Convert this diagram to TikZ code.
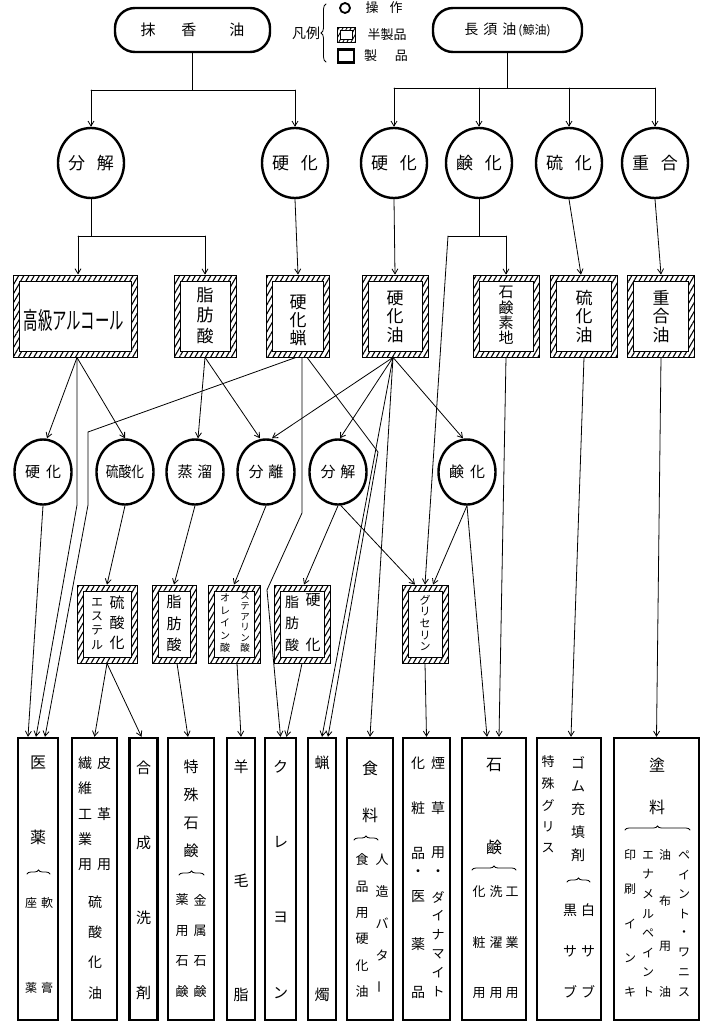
\documentclass[tikz,border=0pt]{standalone}
\usepackage{fontspec}
\newfontfamily\jp{Noto Sans CJK JP}
\usetikzlibrary{arrows.meta,shapes.geometric,patterns.meta,decorations.pathreplacing}
\newcommand\fsz[1]{\fontsize{#1}{#1}\selectfont}
\newcommand\vcol[7][]{%
  \foreach \c [count=\i] in {#7} {%
    \pgfmathsetmacro\yy{#4+(\i-1)*(#5-#4)/(#6-1)}%
    \node[txt,#1] (#2-\i) at (#3,\yy) {\c};
  }}
\begin{document}
\begin{tikzpicture}[x=1pt,y=-1pt,
  txt/.style={inner sep=0pt,font=\jp\fsz{15}},
  f9/.style={font=\jp\fsz{9.5}}, f10/.style={font=\jp\fsz{10}},
  f11/.style={font=\jp\fsz{11}}, f12/.style={font=\jp\fsz{12}},
  f13/.style={font=\jp\fsz{13}}, f14/.style={font=\jp\fsz{14}},
  f15/.style={font=\jp\fsz{15}}, f16/.style={font=\jp\fsz{16}},
  f17/.style={font=\jp\fsz{17}},
  ln/.style={line width=0.8pt,line cap=round},
  arr/.style={ln,-{Straight Barb[length=5pt,width=6pt]}},
  topbox/.style={draw,line width=2.4pt,rounded corners=20pt,fill=white,inner sep=0pt,font=\jp\fsz{15}},
  opA/.style={ellipse,draw,line width=2.4pt,fill=white,inner sep=0pt,minimum width=66pt,minimum height=70pt,font=\jp\fsz{17}},
  opB/.style={ellipse,draw,line width=2.4pt,fill=white,inner sep=0pt,minimum width=57pt,minimum height=65pt,font=\jp\fsz{15}},
  semi/.style={draw,line width=0.8pt,inner sep=0pt,
    pattern={Lines[angle=60,distance=4.5pt,line width=1.1pt]},
    path picture={\draw[line width=0.8pt,fill=white]
      ([xshift=6pt,yshift=-6pt]path picture bounding box.north west) rectangle
      ([xshift=-6pt,yshift=6pt]path picture bounding box.south east);}},
  semismall/.style={draw,line width=0.8pt,inner sep=0pt,
    pattern={Lines[angle=60,distance=3.5pt,line width=0.9pt]},
    path picture={\draw[line width=0.8pt,fill=white]
      ([xshift=3pt,yshift=-3pt]path picture bounding box.north west) rectangle
      ([xshift=-3pt,yshift=3pt]path picture bounding box.south east);}},
  prod/.style={draw,line width=2.4pt,fill=white,inner sep=0pt,minimum height=282pt},
  brc/.style={ln,decorate,decoration={brace,amplitude=4pt}}
]
\useasboundingbox[fill=white] (0,0) rectangle (702,1028);

% ---------- top ----------
\node[topbox,minimum width=155pt,minimum height=44pt] (mk) at (192.5,30) {抹\hspace{26pt}香\hspace{33pt}油};
\node[topbox,minimum width=149pt,minimum height=44pt] (cy) at (507.5,30) {\fsz{14}長\hspace{5pt}須\hspace{5pt}油\hspace{2pt}{\fsz{12}(鯨油)}};

% legend
\node[txt,f14] (lg) at (306,33) {凡例};
\draw[brc,decoration={brace,amplitude=5pt}] (326,62) -- (326,4);
\node[circle,draw,line width=1.8pt,minimum size=10pt,inner sep=0pt] (lc) at (345,8) {};
\node[txt,f13] (lt1) at (384,8) {操\hspace{11pt}作};
\node[semismall,minimum width=18pt,minimum height=15pt] (lh) at (346,35) {};
\node[txt,f13] (lt2) at (387,35) {半製品};
\node[draw,line width=2.2pt,minimum width=16pt,minimum height=13pt,inner sep=0pt] (lp) at (346,56) {};
\node[txt,f13] (lt3) at (386,56) {製\hspace{18pt}品};

% ---------- operations row 1 ----------
\node[opA] (o1) at (91,163) {分\hspace{12pt}解};
\node[opA] (o2) at (295,163) {硬\hspace{12pt}化};
\node[opA] (o3) at (394,163) {硬\hspace{12pt}化};
\node[opA] (o4) at (479,163) {鹸\hspace{12pt}化};
\node[opA] (o5) at (569,163) {硫\hspace{12pt}化};
\node[opA] (o6) at (655,163) {重\hspace{12pt}合};

% ---------- semi products row 1 ----------
\node[semi,minimum width=124pt,minimum height=82pt] (s1) at (75,316) {};
\node[semi,minimum width=62pt,minimum height=82pt] (s2) at (205,316) {};
\node[semi,minimum width=63pt,minimum height=82pt] (s3) at (298,316) {};
\node[semi,minimum width=66pt,minimum height=82pt] (s4) at (395,316) {};
\node[semi,minimum width=66pt,minimum height=82pt] (s5) at (506,316) {};
\node[semi,minimum width=67pt,minimum height=82pt] (s6) at (584,316) {};
\node[semi,minimum width=67pt,minimum height=82pt] (s7) at (661,316) {};
\node[txt] (s1t) at (74,320) {\scalebox{0.6}[1]{\fsz{24}高級アルコール}};
\vcol[f17]{s2t}{205}{295}{336}{3}{脂,肪,酸}
\vcol[f17]{s3t}{298}{302}{338}{3}{硬,化,蝋}
\vcol[f17]{s4t}{395}{298}{335}{3}{硬,化,油}
\vcol[f15]{s5t}{506}{292}{338}{4}{石,鹸,素,地}
\vcol[f17]{s6t}{584}{298}{335}{3}{硫,化,油}
\vcol[f17]{s7t}{661}{298}{335}{3}{重,合,油}

% ---------- operations row 2 ----------
\node[opB] (p1) at (43,472) {硬\hspace{6pt}化};
\node[opB] (p2) at (125,472) {\scalebox{0.85}[1]{硫酸化}};
\node[opB] (p3) at (195,472) {蒸\hspace{5pt}溜};
\node[opB] (p4) at (266,472) {分\hspace{5pt}離};
\node[opB] (p5) at (338,472) {分\hspace{5pt}解};
\node[opB] (p6) at (467,472) {鹸\hspace{6pt}化};

% ---------- semi products row 2 ----------
\node[semi,minimum width=60pt,minimum height=78pt] (q1) at (107,624) {};
\node[semi,minimum width=44pt,minimum height=78pt] (q2) at (174,624) {};
\node[semi,minimum width=52pt,minimum height=78pt] (q3) at (234,624) {};
\node[semi,minimum width=56pt,minimum height=78pt] (q4) at (302,624) {};
\node[semi,minimum width=46pt,minimum height=78pt] (q5) at (425,624) {};
\vcol[f15]{q1a}{117}{603}{643}{3}{硫,酸,化}
\vcol[f12]{q1b}{97}{602}{645}{4}{エ,ス,テ,ル}
\vcol[f15]{q2a}{174}{602}{645}{3}{脂,肪,酸}
\vcol[f9]{q3a}{245}{596}{648}{6}{ス,テ,ア,リ,ン,酸}
\vcol[f10]{q3b}{225}{598}{648}{5}{オ,レ,イ,ン,酸}
\vcol[f15]{q4a}{313}{600}{645}{2}{硬,化}
\vcol[f14]{q4b}{292}{602}{645}{3}{脂,肪,酸}
\vcol[f11]{q5a}{425}{600}{647}{5}{グ,リ,セ,リ,ン}

% ---------- products ----------
\node[prod,minimum width=40pt] (r1) at (38,879) {};
\node[prod,minimum width=45pt] (r2) at (94.5,879) {};
\node[prod,minimum width=28pt] (r3) at (143.5,879) {};
\node[prod,minimum width=46pt] (r4) at (191,879) {};
\node[prod,minimum width=28pt] (r5) at (241,879) {};
\node[prod,minimum width=31pt] (r6) at (280.5,879) {};
\node[prod,minimum width=28pt] (r7) at (322,879) {};
\node[prod,minimum width=46pt] (r8) at (370,879) {};
\node[prod,minimum width=47pt] (r9) at (426.5,879) {};
\node[prod,minimum width=64pt] (r10) at (494,879) {};
\node[prod,minimum width=64pt] (r11) at (569,879) {};
\node[prod,minimum width=85pt] (r12) at (656.5,879) {};

% r1
\node[txt,f16] (r1a) at (38,763) {医};
\node[txt,f16] (r1b) at (38,837) {薬};
\draw[brc] (27,874) -- (50,874);
\vcol[f12]{r1c}{47}{903}{988}{2}{軟,膏}
\vcol[f12]{r1d}{31}{903}{988}{2}{座,薬}
% r2
\vcol[f14]{r2a}{104}{763}{865}{3}{皮,革,用}
\vcol[f14]{r2b}{85}{763}{865}{5}{繊,維,工,業,用}
\vcol[f14]{r2c}{95}{902}{993}{4}{硫,酸,化,油}
% r3
\vcol[f15]{r3a}{143.5}{768}{993}{4}{合,成,洗,剤}
% r4
\vcol[f15]{r4a}{191}{767}{851}{4}{特,殊,石,鹸}
\draw[brc] (179,875) -- (204,875);
\vcol[f13]{r4b}{200}{900}{992}{4}{金,属,石,鹸}
\vcol[f13]{r4c}{182}{900}{992}{4}{薬,用,石,鹸}
% r5, r6, r7
\vcol[f15]{r5a}{241}{767}{995}{3}{羊,毛,脂}
\vcol[f15]{r6a}{280.5}{767}{993}{4}{ク,レ,ヨ,ン}
\vcol[f15]{r7a}{322}{763}{995}{2}{蝋,燭}
% r8
\vcol[f16]{r8a}{370}{768}{815}{2}{食,料}
\draw[brc] (354,840) -- (378,840);
\vcol[f13]{r8b}{382}{860}{987}{5}{人,造,バ,タ,\rotatebox{90}{ー}}
\vcol[f13]{r8c}{362}{860}{992}{6}{食,品,用,硬,化,油}
% r9
\vcol[f14]{r9a}{438}{763}{853}{3}{煙,草,用}
\node[txt,f14] (r9b) at (438,873) {・};
\vcol[f13]{r9c}{438}{897}{992}{6}{ダ,イ,ナ,マ,イ,ト}
\vcol[f14]{r9d}{418}{763}{853}{3}{化,粧,品}
\node[txt,f14] (r9e) at (418,873) {・};
\vcol[f14]{r9f}{418}{897}{992}{3}{医,薬,品}
% r10
\vcol[f16]{r10a}{494}{765}{847}{2}{石,鹸}
\draw[brc] (472,870) -- (516,870);
\vcol[f13]{r10b}{512}{892}{993}{3}{工,業,用}
\vcol[f13]{r10c}{496}{892}{993}{3}{洗,濯,用}
\vcol[f13]{r10d}{479}{892}{993}{3}{化,粧,用}
% r11
\vcol[f13]{r11a}{548}{762}{848}{5}{特,殊,グ,リ,ス}
\vcol[f14]{r11b}{578}{763}{855}{5}{ゴ,ム,充,填,剤}
\draw[brc] (567,882) -- (590,882);
\vcol[f14]{r11c}{588}{910}{992}{3}{白,サ,ブ}
\vcol[f14]{r11d}{570}{910}{992}{3}{黒,サ,ブ}
% r12
\vcol[f16]{r12a}{657}{765}{807}{2}{塗,料}
\draw[brc] (625,830) -- (690,830);
\vcol[f12]{r12b}{684}{855}{992}{8}{ペ,イ,ン,ト,・,ワ,ニ,ス}
\vcol[f12]{r12c}{665}{855}{992}{4}{油,布,用,油}
\vcol[f12]{r12d}{648}{855}{992}{8}{エ,ナ,メ,ル,ペ,イ,ン,ト}
\vcol[f12]{r12e}{630}{855}{992}{5}{印,刷,イ,ン,キ}

% ---------- connectors: top ----------
\coordinate (bL) at (91,90); \coordinate (bR) at (295,90);
\draw[ln] (mk.south) -- (mk.south |- bL);
\draw[ln] (bL) -- (bR);
\draw[arr] (bL) -- (o1.north);
\draw[arr] (bR) -- (o2.north);
\coordinate (cL) at (394,88); \coordinate (cR) at (655,88);
\draw[ln] (cy.south) -- (cy.south |- cL);
\draw[ln] (cL) -- (cR);
\draw[arr] (cL) -- (o3.north);
\draw[arr] (o4.north |- cL) -- (o4.north);
\draw[arr] (o5.north |- cL) -- (o5.north);
\draw[arr] (cR) -- (o6.north);

% ---------- ops row 1 -> semi row 1 ----------
\coordinate (k1) at (91,236); \coordinate (k1L) at (78,236); \coordinate (k1R) at (205,236);
\draw[ln] (o1.south) -- (k1);
\draw[ln] (k1L) -- (k1R);
\draw[arr] (k1L) -- (k1L |- s1.north);
\draw[arr] (k1R) -- (s2.north);
\draw[arr] (o2.south) -- (s3.north);
\draw[arr] (o3.south) -- (s4.north);
\coordinate (k4) at (479,236); \coordinate (k4L) at (448,236); \coordinate (k4R) at (506,236);
\draw[ln] (o4.south) -- (k4);
\draw[ln] (k4L) -- (k4R);
\draw[arr] (k4R) -- (s5.north);
\draw[arr] (k4L) -- (q5.north);
\draw[arr] (o5.south) -- ([xshift=-3pt]s6.north);
\draw[arr] (o6.south) -- (s7.north);

% ---------- semi row 1 -> ops row 2 / products ----------
\draw[arr] ([xshift=2pt]s1.south) -- ([xshift=4pt]p1.north);
\draw[arr] ([xshift=2pt]s1.south) -- (p2.north);
\coordinate (m3) at (77,505);
\draw[arr] ([xshift=2pt]s1.south) -- (m3) -- ([xshift=-2pt]r1.north);
\draw[arr] (s2.south) -- ([xshift=3pt]p3.north);
\draw[arr] (s2.south) -- ([xshift=-6pt]p4.north);
\coordinate (m1) at (88,432); \coordinate (m2) at (88,505);
\draw[arr] ([xshift=-2pt]s3.south) -- (m1) -- (m2) -- ([xshift=7pt]r1.north);
\coordinate (m4) at (302,513); \coordinate (m5) at (267,590);
\draw[arr] ([xshift=4pt]s3.south) -- (m4) -- (m5) -- (r6.north);
\coordinate (m6) at (378,452);
\draw[arr] ([xshift=9pt]s3.south) -- (m6) -- ([xshift=6pt]r7.north);
\draw[arr] ([xshift=-2pt]s4.south) -- ([xshift=6pt]p4.north);
\draw[arr] ([xshift=-2pt]s4.south) -- ([xshift=2pt]p5.north);
\draw[arr] ([xshift=-2pt]s4.south) -- ([xshift=-4pt]p6.north);
\draw[arr] ([xshift=-2pt]s4.south) -- (r7.north);
\draw[arr] ([xshift=-2pt]s4.south) -- (r8.north);
\draw[arr] (s5.south) -- ([xshift=5pt]r10.north);
\draw[arr] (s6.south) -- ([xshift=2pt]r11.north);
\draw[arr] (s7.south) -- (r12.north);

% ---------- ops row 2 -> semi row 2 / products ----------
\draw[arr] (p1.south) -- ([xshift=-10pt]r1.north);
\draw[arr] (p2.south) -- (q1.north);
\draw[arr] (p3.south) -- (q2.north);
\draw[arr] (p4.south) -- (q3.north);
\draw[arr] (p5.south) -- ([xshift=2pt]q4.north);
\draw[arr] ([xshift=3pt]p5.south) -- ([xshift=-10pt]q5.north);
\draw[arr] (p6.south) -- ([xshift=8pt]q5.north);
\draw[arr] (p6.south) -- ([xshift=-7pt]r10.north);

% ---------- semi row 2 -> products ----------
\draw[arr] (q1.south) -- (r2.north);
\draw[arr] (q1.south) -- ([xshift=-2pt]r3.north);
\draw[arr] ([xshift=3pt]q2.south) -- ([xshift=-3pt]r4.north);
\draw[arr] ([xshift=3pt]q3.south) -- (r5.north);
\draw[arr] (q4.south) -- ([xshift=6pt]r6.north);
\draw[arr] (q5.south) -- (r9.north);
\end{tikzpicture}
\end{document}
